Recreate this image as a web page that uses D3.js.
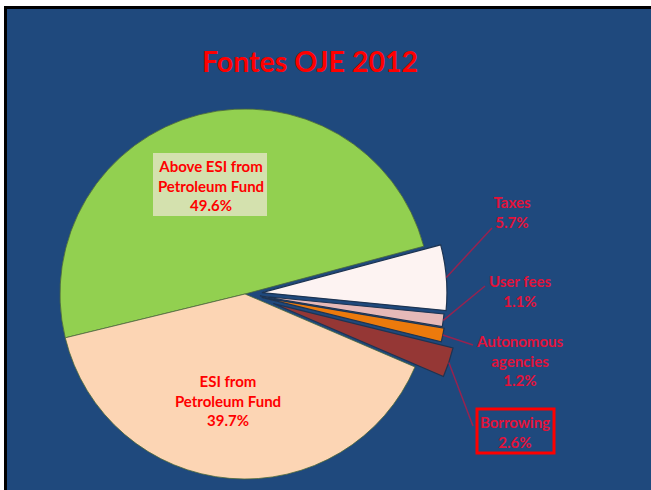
<!DOCTYPE html>
<html>
<head>
<meta charset="utf-8">
<script src="https://cdn.jsdelivr.net/npm/d3@7"></script>
<style>
body{margin:0;background:#fff}
text{font-family:Lato,"Open Sans",sans-serif;font-weight:bold}
</style>
</head>
<body>
<div class="chart"></div>
<script>
const categories=["Above ESI from Petroleum Fund","Taxes","User fees","Autonomous agencies","Borrowing","ESI from Petroleum Fund"]
const values=[49.6,5.7,1.1,1.2,2.6,39.7]
const labelLines=[["Above ESI from","Petroleum Fund"],["Taxes"],["User fees"],["Autonomous","agencies"],["Borrowing"],["ESI from","Petroleum Fund"]]
const title="Fontes OJE 2012"

const width=651,height=490
const colors=["#92d050","#fdf3f2","#e6b9b8","#ec7a0c","#953735","#fcd5b4"]
const explode=[0,17,15,17,30,0]
// label anchor (x, first baseline) for each slice, and whether a leader line is drawn
const labelPos=[[211,172,false],[512,208,true],[520,287,true],[520,347,true],[515,428,true],[228,387,false]]
const leaderEnd=[null,[492,228],[485,286],[473,345],[473,426],null]

const cx=245,cy=294,radius=185

const svg=d3.select('.chart').append('svg')
	.attr('width',width)
	.attr('height',height)

svg.append('rect')
	.attr('x',5.5).attr('y',7.5)
	.attr('width',width+20).attr('height',height+20)
	.attr('fill','#1f497d')
	.attr('stroke','#000')
	.attr('stroke-width',3)

svg.append('text')
	.attr('x',310)
	.attr('y',72)
	.attr('text-anchor','middle')
	.attr('font-size',28.5)
	.attr('fill','#ff0000')
	.text(title)

const pie=d3.pie()
	.sort(null)
	.startAngle(-103.7*Math.PI/180)
	.endAngle((360-103.7)*Math.PI/180)

const arc=d3.arc().innerRadius(0).outerRadius(radius)

const arcs=pie(values)

const g=svg.append('g')
	.attr('transform',`translate(${cx},${cy})`)

function shift(d,i){
	const a=(d.startAngle+d.endAngle)/2
	return [Math.sin(a)*explode[i],-Math.cos(a)*explode[i]]
}

g.selectAll('.slice')
	.data(arcs)
	.enter()
	.append('path')
	.attr('class','slice')
	.attr('d',arc)
	.attr('transform',(d,i)=>{
		const s=shift(d,i)
		return `translate(${s[0]},${s[1]})`
	})
	.attr('fill',(d,i)=>colors[i])
	.attr('stroke',(d,i)=>explode[i]?'#1d3452':'#4d6a3a')
	.attr('stroke-width',(d,i)=>explode[i]?1.2:0.8)

// leader lines
const leaders=arcs.map((d,i)=>({d,i})).filter(o=>leaderEnd[o.i])
svg.selectAll('.leader')
	.data(leaders)
	.enter()
	.append('line')
	.attr('class','leader')
	.attr('x1',o=>{
		const a=(o.d.startAngle+o.d.endAngle)/2
		return cx+shift(o.d,o.i)[0]+Math.sin(a)*radius
	})
	.attr('y1',o=>{
		const a=(o.d.startAngle+o.d.endAngle)/2
		return cy+shift(o.d,o.i)[1]-Math.cos(a)*radius
	})
	.attr('x2',o=>leaderEnd[o.i][0])
	.attr('y2',o=>leaderEnd[o.i][1])
	.attr('stroke','#962350')
	.attr('stroke-width',1.5)

// box behind the big green label
svg.append('rect')
	.attr('x',153).attr('y',153)
	.attr('width',114).attr('height',63)
	.attr('fill','#d4e1ae')

// borrowing box
svg.append('rect')
	.attr('x',477).attr('y',409)
	.attr('width',77).attr('height',44)
	.attr('fill','none')
	.attr('stroke','#ff0000')
	.attr('stroke-width',3)

const labels=svg.selectAll('.label')
	.data(arcs)
	.enter()
	.append('text')
	.attr('class','label')
	.attr('text-anchor','middle')
	.attr('font-size',15)
	.attr('fill',(d,i)=>labelPos[i][2]?'#e3123a':'#ff0000')

labels.each(function(d,i){
	const lines=labelLines[i].concat([d3.format('.1f')(values[i])+'%'])
	d3.select(this).selectAll('tspan')
		.data(lines)
		.enter()
		.append('tspan')
		.attr('x',labelPos[i][0])
		.attr('y',(l,j)=>labelPos[i][1]+j*19.5)
		.text(l=>l)
})
</script>
</body>
</html>
